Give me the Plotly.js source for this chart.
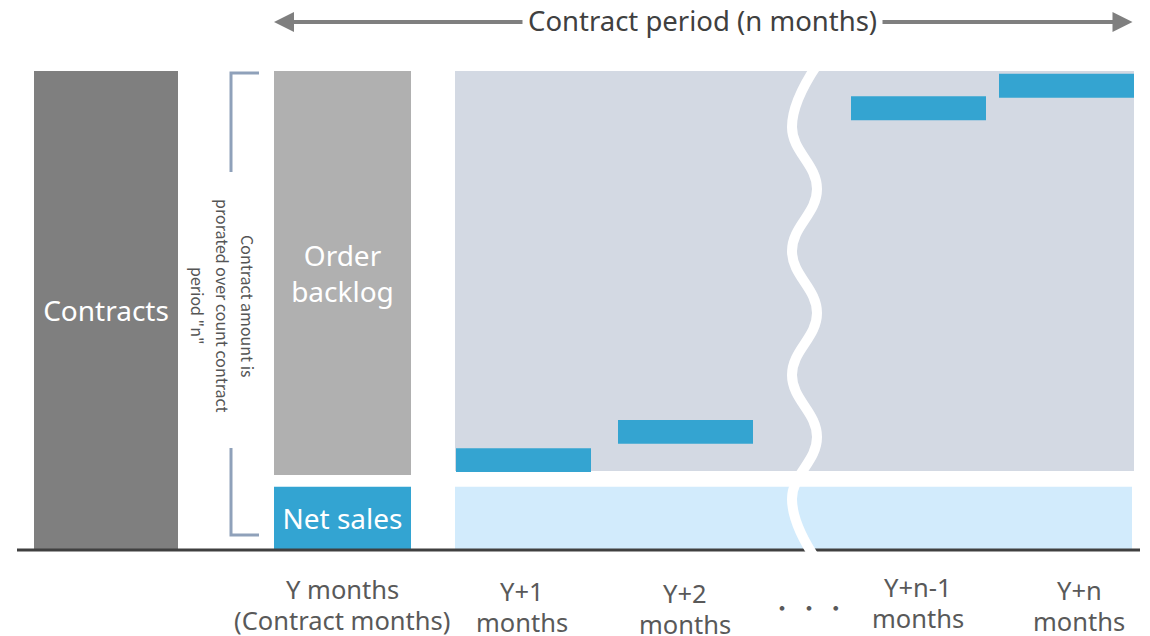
<!DOCTYPE html>
<html>
<head>
<meta charset="utf-8">
<script src="https://cdn.plot.ly/plotly-3.0.1.min.js"></script>
<style>html,body{margin:0;padding:0;background:#fff;}#chart{width:1150px;height:636px;}</style>
</head>
<body>
<div id="chart"></div>
<script>
// ---------- data (index: total contract amount = 100) ----------
const contractAmount = 100;
const contractLabel = 'Contracts';
const backlogLabel = 'Order<br>backlog';
const netSalesLabel = 'Net sales';
const netSalesAmount = 13;          // recognised in the contract month
const backlogBase = 15.5;           // order backlog sits above net sales
const backlogAmount = 84.5;
const futureBacklogBase = 16.3;
const futureBacklogAmount = 83.7;
const futureSalesAmount = 13;
const monthCategories = ['Y+1', 'Y+2', 'Y+n-1', 'Y+n'];
const monthlyBase = [16.1, 22.0, 89.7, 94.4];
const monthlyAmount = [5, 5, 5, 5];
const tickLabels = ['Y months<br>(Contract months)', 'Y+1<br>months', 'Y+2<br>months', '・ ・ ・', 'Y+n-1<br>months', 'Y+n<br>months'];
const bracketLines = ['Contract amount is', 'prorated over count contract', 'period "n"'];
const periodText = 'Contract period (n months)';

// ---------- layout geometry (x axis in pixel-like units) ----------
const PXU = 4.78;                         // pixels per amount unit
const BASE_PX = 549;
const yOf = px => (BASE_PX - px) / PXU;   // convert vertical pixel to y value
const FONT = '"Noto Sans", "Noto Sans CJK JP", sans-serif';
const FONT_CJK = '"Noto Sans CJK JP", "Noto Sans", sans-serif';

const xContracts = 106, wContracts = 144;
const xMonthY = 342.5, wMonthY = 137;
const xFuture = 794.5, wFuture = 679;
const xFutureSales = 793.5, wFutureSales = 677;
const xMonths = [523.5, 685.5, 918.5, 1066.5], wMonth = 135;
const xTicks = [342, 522, 685, 809, 918, 1079];
const yTicksFirstLinePx = [589, 591, 593, 606, 587, 590];
const tickLineGap = 31;
const xBracketLines = [248, 223, 198];

const textFont = {family: FONT, size: 28, color: '#ffffff'};
const bar = (o) => Object.assign({type: 'bar', hoverinfo: 'skip', textposition: 'inside',
  insidetextanchor: 'middle', textangle: 0, constraintext: 'none', insidetextfont: textFont,
  marker: {line: {width: 0}}}, o);

const traces = [
  bar({x: [xFuture], y: [futureBacklogAmount], base: [futureBacklogBase], width: [wFuture], marker: {color: '#d3d9e3', line: {width: 0}}}),
  bar({x: [xFutureSales], y: [futureSalesAmount], base: [0], width: [wFutureSales], marker: {color: '#d2ebfc', line: {width: 0}}}),
  bar({x: [xContracts], y: [contractAmount], base: [0], width: [wContracts], text: [contractLabel], marker: {color: '#7f7f7f', line: {width: 0}}}),
  bar({x: [xMonthY], y: [backlogAmount], base: [backlogBase], width: [wMonthY], text: [backlogLabel], marker: {color: '#b0b0b0', line: {width: 0}}}),
  bar({x: [xMonthY], y: [netSalesAmount], base: [0], width: [wMonthY], text: [netSalesLabel], marker: {color: '#33a4d2', line: {width: 0}}}),
  bar({x: xMonths, y: monthlyAmount, base: monthlyBase, width: xMonths.map(() => wMonth), customdata: monthCategories, marker: {color: '#34a4d1', line: {width: 0}}}),
];

// bracket beside the order backlog
traces.push({type: 'scatter', mode: 'lines', hoverinfo: 'skip',
  x: [259, 231, 231, null, 231, 231, 259],
  y: [yOf(73), yOf(73), yOf(172), null, yOf(448), yOf(535), yOf(535)],
  line: {color: '#8fa1ba', width: 3}});

// baseline
traces.push({type: 'scatter', mode: 'lines', hoverinfo: 'skip',
  x: [17, 1140], y: [yOf(550), yOf(550)], line: {color: '#404040', width: 3}});

// break mark (wavy white line)
const waveX = [], waveY = [];
for (let i = 0, py = 65; py <= 565; i++, py += 62) {
  waveX.push(i % 2 === 0 ? 817 : 792);
  waveY.push(yOf(py));
}
traces.push({type: 'scatter', mode: 'lines', hoverinfo: 'skip',
  x: waveX, y: waveY, line: {color: '#ffffff', width: 10, shape: 'spline', smoothing: 1.2}});

const annotations = [];
// arrow for contract period
annotations.push({xref: 'x', yref: 'y', x: 274, y: yOf(22), axref: 'x', ayref: 'y', ax: 1134, ay: yOf(22),
  text: '', showarrow: true, arrowside: 'end+start', arrowhead: 2, arrowsize: 1, arrowwidth: 4, arrowcolor: '#7f7f7f'});
annotations.push({xref: 'x', yref: 'y', x: 702, y: yOf(20), text: periodText, showarrow: false,
  bgcolor: '#ffffff', borderpad: 5, font: {family: FONT, size: 27.5, color: '#404040'}});
// rotated bracket text, one line each
bracketLines.forEach((t, i) => annotations.push({xref: 'x', yref: 'y', x: xBracketLines[i], y: yOf(306),
  text: t, textangle: 90, showarrow: false, borderpad: 0, font: {family: FONT_CJK, size: 16, color: '#555555'}}));
// bottom category labels (each line placed separately for tighter leading)
tickLabels.forEach((t, i) => {
  t.split('<br>').forEach((line, j) => annotations.push({xref: 'x', yref: 'y', x: xTicks[i],
    y: yOf(yTicksFirstLinePx[i] + j * tickLineGap), text: line, showarrow: false, borderpad: 0,
    font: {family: i === 3 ? FONT_CJK : FONT, size: i === 3 ? 22 : 25.5, color: '#595959'}}));
});

const layout = {
  width: 1150, height: 636,
  margin: {l: 0, r: 0, t: 0, b: 0},
  paper_bgcolor: '#ffffff', plot_bgcolor: '#ffffff',
  barmode: 'overlay', showlegend: false,
  xaxis: {range: [0, 1150], visible: false, fixedrange: true},
  yaxis: {range: [yOf(636), yOf(0)], visible: false, fixedrange: true},
  annotations: annotations,
  font: {family: FONT},
};
Plotly.newPlot('chart', traces, layout, {displayModeBar: false, staticPlot: true});
</script>
</body>
</html>
